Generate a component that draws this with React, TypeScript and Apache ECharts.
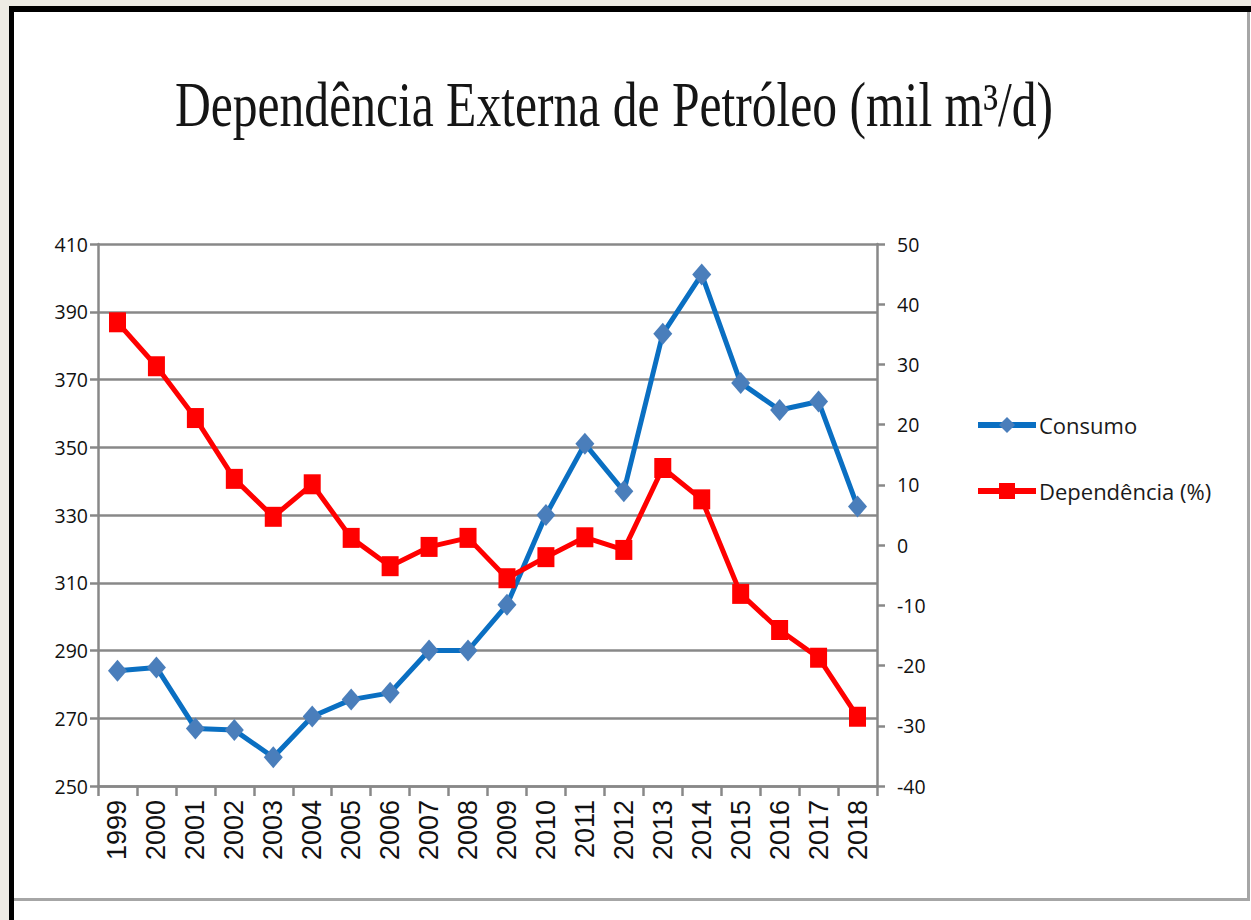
import React, { useEffect, useRef } from "react";
import * as echarts from "echarts";

const titleText = "Dependência Externa de Petróleo (mil m³/d)";
const years = ["1999", "2000", "2001", "2002", "2003", "2004", "2005", "2006", "2007", "2008", "2009", "2010", "2011", "2012", "2013", "2014", "2015", "2016", "2017", "2018"];
const consumo = [284, 285, 267, 266.5, 258.5, 270.5, 275.5, 277.5, 290, 290, 303.5, 330, 351, 337, 383.5, 401, 369, 361, 363.5, 332.5];
const dependencia = [37, 29.7, 21.1, 11, 4.7, 10.1, 1.2, -3.5, -0.3, 1.2, -5.5, -2, 1.3, -0.8, 12.8, 7.6, -8.1, -14.1, -18.7, -28.5];
const leftAxis = { min: 250, max: 410, interval: 20 };
const rightAxis = { min: -40, max: 50, interval: 10 };

const AXIS_GRAY = "#888888";

export default function App() {
  const ref = useRef<HTMLDivElement>(null);

  useEffect(() => {
    document.body.style.margin = "0";
    if (!ref.current) return;
    const chart = echarts.init(ref.current, null, { renderer: "svg" });
    chart.setOption({
      animation: false,
      backgroundColor: "transparent",
      graphic: [
        {
          type: "text",
          x: 614,
          y: 104,
          scaleY: 1.28,
          style: {
            text: titleText,
            fontFamily: '"Liberation Serif", "Times New Roman", serif',
            fontSize: 49.6,
            fill: "#151515",
            align: "center",
            verticalAlign: "middle",
          },
        },
      ],
      legend: {
        orient: "vertical",
        left: 975,
        top: 414,
        padding: 0,
        itemGap: 44,
        itemWidth: 58,
        itemHeight: 20,
        lineStyle: { width: 6 },
        textStyle: { fontFamily: '"Open Sans", sans-serif', fontSize: 22, color: "#1a1a1a", padding: [0, 0, 0, -2] },
        data: ["Consumo", "Dependência (%)"],
      },
      grid: { left: 98, right: 374, top: 244, bottom: 134, containLabel: false },
      xAxis: {
        type: "category",
        data: years,
        boundaryGap: true,
        axisLine: { onZero: false, lineStyle: { color: AXIS_GRAY, width: 2.5 } },
        axisTick: { show: true, length: 10, lineStyle: { color: AXIS_GRAY, width: 2.5 } },
        axisLabel: {
          rotate: 90,
          margin: 14,
          interval: 0,
          fontFamily: '"Liberation Sans", Arial, sans-serif',
          fontSize: 27,
          color: "#111",
        },
      },
      yAxis: [
        {
          type: "value",
          min: leftAxis.min,
          max: leftAxis.max,
          interval: leftAxis.interval,
          position: "left",
          axisLine: { show: true, lineStyle: { color: AXIS_GRAY, width: 2.5 } },
          axisTick: { show: true, length: 8, lineStyle: { color: AXIS_GRAY, width: 2.5 } },
          splitLine: { show: true, lineStyle: { color: AXIS_GRAY, width: 2.5 } },
          axisLabel: { margin: 10, fontFamily: '"Open Sans", sans-serif', fontSize: 19.5, color: "#111" },
        },
        {
          type: "value",
          min: rightAxis.min,
          max: rightAxis.max,
          interval: rightAxis.interval,
          position: "right",
          axisLine: { show: true, lineStyle: { color: AXIS_GRAY, width: 2.5 } },
          axisTick: { show: true, length: 8, lineStyle: { color: AXIS_GRAY, width: 2.5 } },
          splitLine: { show: false },
          axisLabel: { margin: 20, fontFamily: '"Open Sans", sans-serif', fontSize: 19.5, color: "#111" },
        },
      ],
      series: [
        {
          name: "Consumo",
          type: "line",
          yAxisIndex: 0,
          data: consumo,
          symbol: "diamond",
          symbolSize: [19, 22],
          lineStyle: { color: "#0a6fc2", width: 5 },
          itemStyle: { color: "#4a7ebb" },
        },
        {
          name: "Dependência (%)",
          type: "line",
          yAxisIndex: 1,
          data: dependencia,
          symbol: "rect",
          symbolSize: [17, 20],
          lineStyle: { color: "#ff0000", width: 5 },
          itemStyle: { color: "#ff0000" },
        },
      ],
    });
    return () => chart.dispose();
  }, []);

  return (
    <div style={{ position: "relative", width: 1251, height: 920, background: "#eeebe4", overflow: "hidden" }}>
      <div style={{ position: "absolute", left: 9, top: 6, width: 1242, height: 914, background: "#ffffff" }} />
      <div style={{ position: "absolute", left: 9, top: 6, width: 1242, height: 6, background: "#000" }} />
      <div style={{ position: "absolute", left: 9, top: 6, width: 5, height: 914, background: "#000" }} />
      <div style={{ position: "absolute", left: 1247, top: 12, width: 3, height: 889, background: "#a6a6a6" }} />
      <div style={{ position: "absolute", left: 14, top: 898, width: 1236, height: 3, background: "#a6a6a6" }} />
      <div ref={ref} style={{ position: "absolute", left: 0, top: 0, width: 1251, height: 920 }} />
    </div>
  );
}
